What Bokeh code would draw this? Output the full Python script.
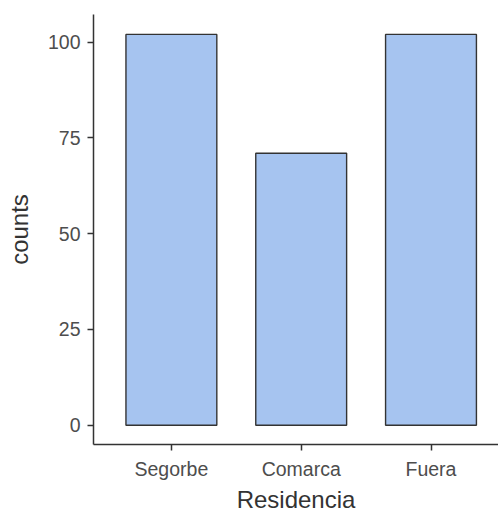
from bokeh.plotting import figure
from bokeh.models import ColumnDataSource, FixedTicker, Range1d
from bokeh.embed import file_html
from bokeh.resources import INLINE

categories = ["Segorbe", "Comarca", "Fuera"]
counts = [102, 71, 102]
y_ticks = [0, 25, 50, 75, 100]
x_title = "Residencia"
y_title = "counts"

positions = list(range(1, len(categories) + 1))
source = ColumnDataSource(dict(x=positions, top=counts, name=categories))

p = figure(width=498, height=516, output_backend="svg", toolbar_location=None,
           x_range=Range1d(0.4, 3.52), y_range=Range1d(-5.04, 107.2),
           min_border_left=93, min_border_right=0, min_border_top=14, min_border_bottom=72)

p.vbar(x="x", top="top", bottom=0, width=0.7, source=source,
       fill_color="#a6c4f0", line_color="#333333", line_width=1.4)

p.xgrid.visible = False
p.ygrid.visible = False
p.outline_line_color = None
p.background_fill_color = "white"
p.border_fill_color = "white"

p.xaxis.ticker = FixedTicker(ticks=positions)
p.xaxis.major_label_overrides = {pos: c for pos, c in zip(positions, categories)}
p.yaxis.ticker = FixedTicker(ticks=y_ticks)

p.xaxis.axis_label = x_title
p.yaxis.axis_label = y_title

for ax in (p.xaxis, p.yaxis):
    ax.axis_line_color = "#333333"
    ax.axis_line_width = 1.5
    ax.major_tick_line_color = "#333333"
    ax.major_tick_line_width = 1.5
    ax.major_tick_out = 6
    ax.major_tick_in = 0
    ax.minor_tick_line_color = None
    ax.major_label_text_font = "Liberation Sans"
    ax.major_label_text_font_size = "19.5px"
    ax.major_label_text_color = "#4d4d4d"
    ax.axis_label_text_font = "Liberation Sans"
    ax.axis_label_text_font_size = "24px"
    ax.axis_label_text_font_style = "normal"
    ax.axis_label_text_color = "#333333"

p.xaxis.axis_label_text_line_height = 0.8
p.xaxis.major_label_text_line_height = 0.9
p.xaxis.major_label_standoff = 7
p.yaxis.major_label_standoff = 7
p.xaxis.axis_label_standoff = 3
p.yaxis.axis_label_standoff = 12

open("out.html", "w").write(file_html(p, INLINE))
